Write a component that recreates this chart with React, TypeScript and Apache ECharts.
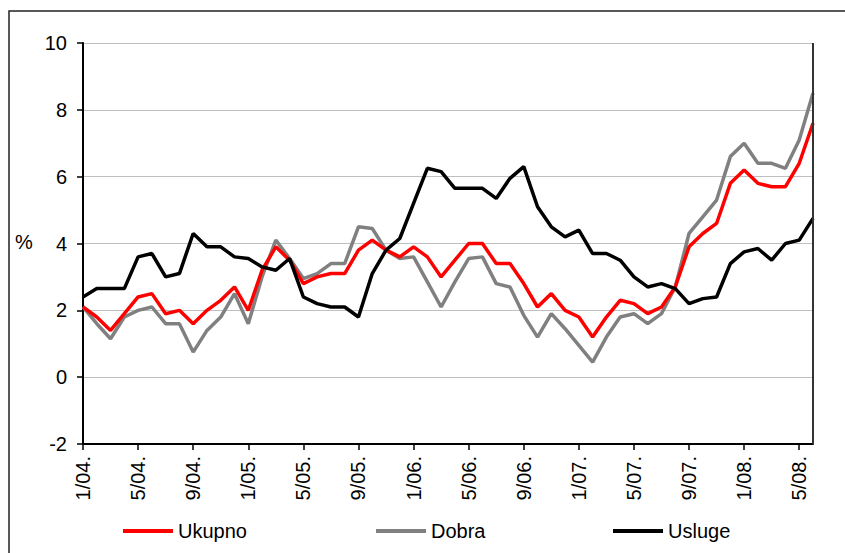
import React, { useEffect, useRef } from "react";
import * as echarts from "echarts";

const categories = [
  "1/04.", "2/04.", "3/04.", "4/04.", "5/04.", "6/04.", "7/04.", "8/04.", "9/04.", "10/04.", "11/04.", "12/04.",
  "1/05.", "2/05.", "3/05.", "4/05.", "5/05.", "6/05.", "7/05.", "8/05.", "9/05.", "10/05.", "11/05.", "12/05.",
  "1/06.", "2/06.", "3/06.", "4/06.", "5/06.", "6/06.", "7/06.", "8/06.", "9/06.", "10/06.", "11/06.", "12/06.",
  "1/07.", "2/07.", "3/07.", "4/07.", "5/07.", "6/07.", "7/07.", "8/07.", "9/07.", "10/07.", "11/07.", "12/07.",
  "1/08.", "2/08.", "3/08.", "4/08.", "5/08.", "6/08.",
];

const ukupno = [
  2.1, 1.8, 1.4, 1.9, 2.4, 2.5, 1.9, 2.0, 1.6, 2.0,
  2.3, 2.7, 2.0, 3.2, 3.9, 3.5, 2.8, 3.0, 3.1, 3.1,
  3.8, 4.1, 3.8, 3.6, 3.9, 3.6, 3.0, 3.5, 4.0, 4.0,
  3.4, 3.4, 2.8, 2.1, 2.5, 2.0, 1.8, 1.2, 1.8, 2.3,
  2.2, 1.9, 2.1, 2.7, 3.9, 4.3, 4.6, 5.8, 6.2, 5.8,
  5.7, 5.7, 6.4, 7.6,
];

const dobra = [
  2.1, 1.6, 1.15, 1.8, 2.0, 2.1, 1.6, 1.6, 0.75, 1.4,
  1.8, 2.5, 1.6, 3.0, 4.1, 3.55, 2.95, 3.1, 3.4, 3.4,
  4.5, 4.45, 3.8, 3.55, 3.6, 2.85, 2.1, 2.85, 3.55, 3.6,
  2.8, 2.7, 1.85, 1.2, 1.9, 1.45, 0.95, 0.45, 1.2, 1.8,
  1.9, 1.6, 1.9, 2.7, 4.3, 4.8, 5.3, 6.6, 7.0, 6.4,
  6.4, 6.25, 7.1, 8.5,
];

const usluge = [
  2.4, 2.65, 2.65, 2.65, 3.6, 3.7, 3.0, 3.1, 4.3, 3.9,
  3.9, 3.6, 3.55, 3.3, 3.2, 3.55, 2.4, 2.2, 2.1, 2.1,
  1.8, 3.1, 3.8, 4.15, 5.2, 6.25, 6.15, 5.65, 5.65, 5.65,
  5.35, 5.95, 6.3, 5.1, 4.5, 4.2, 4.4, 3.7, 3.7, 3.5,
  3.0, 2.7, 2.8, 2.65, 2.2, 2.35, 2.4, 3.4, 3.75, 3.85,
  3.5, 4.0, 4.1, 4.75,
];

const FONT = "'Liberation Sans', Arial, sans-serif";

export default function App() {
  const ref = useRef<HTMLDivElement>(null);

  useEffect(() => {
    document.body.style.margin = "0";
    if (!ref.current) return;
    const chart = echarts.init(ref.current, undefined, { renderer: "svg" });
    const legendBase = {
      top: 521,
      padding: 0,
      icon: "rect",
      itemWidth: 50,
      itemHeight: 4,
      itemGap: 5,
      textStyle: { fontSize: 20, lineHeight: 20, color: "#000", fontFamily: FONT },
    };
    chart.setOption({
      animation: false,
      backgroundColor: "#fff",
      grid: { left: 83, right: 32, top: 43, bottom: 109, containLabel: false },
      legend: [
        { ...legendBase, left: 123, data: ["Ukupno"] },
        { ...legendBase, left: 376, data: ["Dobra"] },
        { ...legendBase, left: 613, data: ["Usluge"] },
      ],
      xAxis: {
        type: "category",
        data: categories,
        boundaryGap: false,
        axisLine: { show: true, onZero: false, lineStyle: { color: "#000", width: 2 } },
        axisTick: { show: true, interval: 3, length: 6, lineStyle: { color: "#000", width: 1.5 } },
        axisLabel: {
          interval: 3,
          rotate: 90,
          margin: 12,
          fontSize: 20,
          color: "#000",
          fontFamily: FONT,
        },
        splitLine: { show: false },
      },
      yAxis: {
        type: "value",
        min: -2,
        max: 10,
        interval: 2,
        axisLine: { show: true, lineStyle: { color: "#000", width: 2 } },
        axisTick: { show: true, length: 6, lineStyle: { color: "#000", width: 1.5 } },
        axisLabel: { margin: 16, fontSize: 20, color: "#000", fontFamily: FONT },
        splitLine: { show: true, lineStyle: { color: "#c0c0c0", width: 1 } },
      },
      graphic: [
        {
          type: "rect",
          silent: true,
          shape: { x: 9, y: 11, width: 860, height: 560 },
          style: { fill: "none", stroke: "#222", lineWidth: 1.5 },
          z: 100,
        },
        {
          type: "line",
          silent: true,
          shape: { x1: 813, y1: 43, x2: 813, y2: 444 },
          style: { stroke: "#333", lineWidth: 2 },
          z: 100,
        },
        {
          type: "text",
          left: 15,
          top: 232,
          style: { text: "%", fontSize: 20, fill: "#000", fontFamily: FONT },
        },
      ],
      series: [
        {
          name: "Dobra",
          type: "line",
          data: dobra,
          symbol: "none",
          z: 2,
          lineStyle: { color: "#808080", width: 3.5 },
          itemStyle: { color: "#808080" },
        },
        {
          name: "Ukupno",
          type: "line",
          data: ukupno,
          symbol: "none",
          z: 3,
          lineStyle: { color: "#ff0000", width: 3.5 },
          itemStyle: { color: "#ff0000" },
        },
        {
          name: "Usluge",
          type: "line",
          data: usluge,
          symbol: "none",
          z: 4,
          lineStyle: { color: "#000000", width: 3.5 },
          itemStyle: { color: "#000000" },
        },
      ],
    });
    return () => chart.dispose();
  }, []);

  return (
    <div
      ref={ref}
      style={{ width: 845, height: 553, position: "absolute", left: 0, top: 0 }}
    />
  );
}
